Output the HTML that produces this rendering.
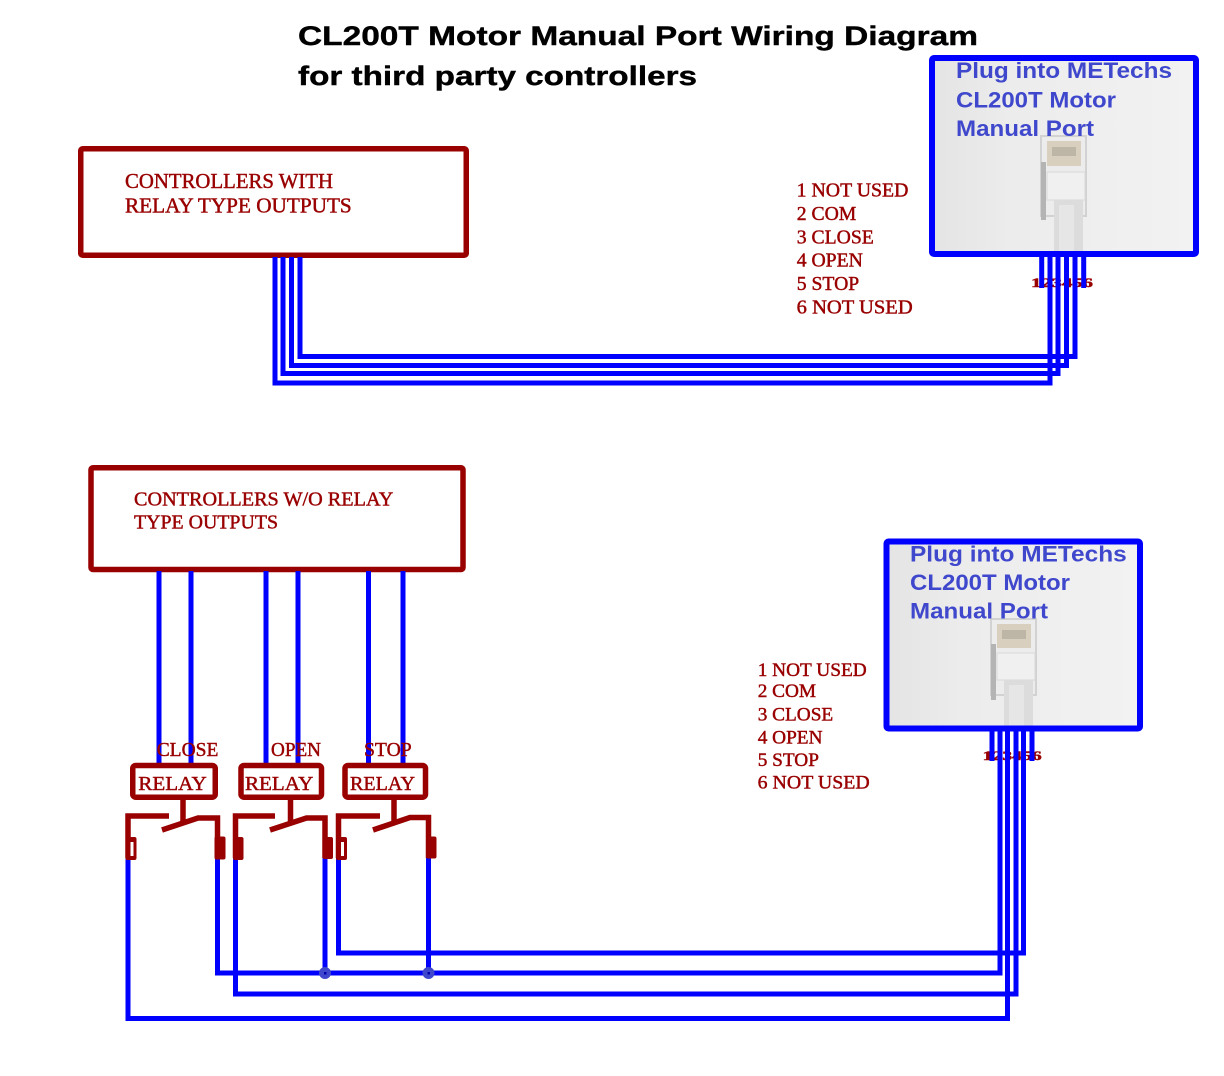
<!DOCTYPE html>
<html><head><meta charset="utf-8"><style>
html,body{margin:0;padding:0;background:#fff;}
svg{display:block;}
.ser{font-family:"Liberation Serif",serif;fill:#990000;stroke:#990000;stroke-width:0.45;}
.plug{font-family:"Liberation Sans",sans-serif;font-weight:bold;fill:#3f48cc;font-size:22px;}
.ttl{font-family:"Liberation Sans",sans-serif;font-weight:bold;fill:#000;font-size:27px;stroke:#000;stroke-width:0.4;}
</style></head><body>
<svg width="1224" height="1076" viewBox="0 0 1224 1076" xmlns="http://www.w3.org/2000/svg">
<defs>
<linearGradient id="bg" x1="0" y1="0" x2="1" y2="0">
<stop offset="0" stop-color="#e4e4e4"/><stop offset="0.3" stop-color="#ececec"/><stop offset="1" stop-color="#f2f2f2"/>
</linearGradient>
</defs>
<rect width="1224" height="1076" fill="#fff"/>

<!-- Title -->
<text class="ttl" x="298" y="45" textLength="680" lengthAdjust="spacingAndGlyphs">CL200T Motor Manual Port Wiring  Diagram</text>
<text class="ttl" x="298" y="85" textLength="399" lengthAdjust="spacingAndGlyphs">for third party controllers</text>

<!-- Top plug box -->
<rect x="932" y="58" width="264" height="196" fill="url(#bg)"/>
<g>
<rect x="1041" y="136" width="45" height="80" fill="#ececec" stroke="#d2d2d2" stroke-width="2"/>
<rect x="1047" y="141" width="34" height="25" fill="#d8cfbf"/>
<rect x="1052" y="147" width="24" height="9" fill="#bdb5a6"/>
<rect x="1041" y="162" width="5" height="58" fill="#b4b4b4"/>
<rect x="1047" y="172" width="38" height="28" fill="#f0f0f0" stroke="#d8d8d8" stroke-width="1"/>
<rect x="1054" y="200" width="29" height="54" fill="#dcdcdc"/>
<rect x="1059" y="205" width="15" height="49" fill="#e6e6e6"/>
</g>
<text class="plug" x="956" y="78" textLength="216" lengthAdjust="spacingAndGlyphs">Plug into METechs</text>
<text class="plug" x="956" y="107.3" textLength="160" lengthAdjust="spacingAndGlyphs">CL200T Motor</text>
<text class="plug" x="956" y="136" textLength="138" lengthAdjust="spacingAndGlyphs">Manual Port</text>
<rect x="932" y="58" width="264" height="196" fill="none" stroke="#0000ff" stroke-width="6" rx="2"/>

<!-- Bottom plug box -->
<rect x="886.5" y="541.5" width="253.5" height="187" fill="url(#bg)"/>
<g>
<rect x="991" y="619" width="45" height="76" fill="#ececec" stroke="#d2d2d2" stroke-width="2"/>
<rect x="997" y="624" width="34" height="24" fill="#d8cfbf"/>
<rect x="1002" y="630" width="24" height="9" fill="#bdb5a6"/>
<rect x="991" y="644" width="5" height="56" fill="#b4b4b4"/>
<rect x="997" y="653" width="38" height="27" fill="#f0f0f0" stroke="#d8d8d8" stroke-width="1"/>
<rect x="1004" y="680" width="29" height="48" fill="#dcdcdc"/>
<rect x="1009" y="685" width="15" height="43" fill="#e6e6e6"/>
</g>
<text class="plug" x="910" y="561.7" textLength="216.7" lengthAdjust="spacingAndGlyphs">Plug into METechs</text>
<text class="plug" x="910" y="590" textLength="160" lengthAdjust="spacingAndGlyphs">CL200T Motor</text>
<text class="plug" x="910" y="618.3" textLength="138" lengthAdjust="spacingAndGlyphs">Manual Port</text>
<rect x="886.5" y="541.5" width="253.5" height="187" fill="none" stroke="#0000ff" stroke-width="6" rx="2"/>

<!-- Controller boxes -->
<rect x="80.75" y="148.75" width="385.5" height="106.5" fill="none" stroke="#990000" stroke-width="5.5" rx="2"/>
<text class="ser" x="125" y="188" font-size="20.8" textLength="208" lengthAdjust="spacingAndGlyphs">CONTROLLERS WITH</text>
<text class="ser" x="125" y="212.3" font-size="20.8" textLength="226.7" lengthAdjust="spacingAndGlyphs">RELAY TYPE OUTPUTS</text>

<rect x="91" y="467.75" width="372" height="101.8" fill="none" stroke="#990000" stroke-width="5.5" rx="2"/>
<text class="ser" x="134" y="505.7" font-size="20" textLength="259.3" lengthAdjust="spacingAndGlyphs">CONTROLLERS W/O RELAY</text>
<text class="ser" x="134" y="528.3" font-size="20" textLength="144" lengthAdjust="spacingAndGlyphs">TYPE OUTPUTS</text>

<!-- Pinout labels -->
<g class="ser" font-size="19.7">
<text x="796.7" y="196.7" textLength="111.7" lengthAdjust="spacingAndGlyphs">1 NOT USED</text>
<text x="796.7" y="220">2 COM</text>
<text x="796.7" y="243.3">3 CLOSE</text>
<text x="796.7" y="266.7">4 OPEN</text>
<text x="796.7" y="290">5 STOP</text>
<text x="796.7" y="313.3" textLength="116" lengthAdjust="spacingAndGlyphs">6 NOT USED</text>
</g>
<g class="ser" font-size="19.3">
<text x="757.7" y="676" textLength="109" lengthAdjust="spacingAndGlyphs">1 NOT USED</text>
<text x="757.7" y="697">2 COM</text>
<text x="757.7" y="720.5">3 CLOSE</text>
<text x="757.7" y="743.3">4 OPEN</text>
<text x="757.7" y="766">5 STOP</text>
<text x="757.7" y="788.3" textLength="112" lengthAdjust="spacingAndGlyphs">6 NOT USED</text>
</g>

<!-- pin numbers -->
<text class="ser" x="1031" y="287" font-size="13" font-weight="bold" textLength="62" lengthAdjust="spacingAndGlyphs">123456</text>
<text class="ser" x="982.7" y="760" font-size="13" font-weight="bold" textLength="59" lengthAdjust="spacingAndGlyphs">123456</text>

<!-- Top wires -->
<g fill="none" stroke="#0000ff" stroke-width="5" stroke-linejoin="miter">
<path d="M275 257 V383 H1050 V256"/>
<path d="M283 257 V373.5 H1058 V256"/>
<path d="M291.5 257 V365.5 H1066.5 V256"/>
<path d="M300 257 V356.5 H1075 V256"/>
<path d="M1041.7 256 V288"/>
<path d="M1083.7 256 V288"/>
</g>

<!-- Controller 2 to relays -->
<g fill="none" stroke="#0000ff" stroke-width="5">
<path d="M159 571 V765"/>
<path d="M191 571 V765"/>
<path d="M266 571 V765"/>
<path d="M298 571 V765"/>
<path d="M368.5 571 V765"/>
<path d="M403 571 V765"/>
</g>

<!-- Bottom wires -->
<g fill="none" stroke="#0000ff" stroke-width="5" stroke-linejoin="miter">
<path d="M992 731 V761"/>
<path d="M1032 731 V761"/>
<path d="M1000 731 V973 H217.5 V856"/>
<path d="M1007.5 731 V1018.5 H128 V856"/>
<path d="M1016 731 V994 H235.5 V856"/>
<path d="M1023.5 731 V953 H338.5 V856"/>
<path d="M325 856 V973"/>
<path d="M428.5 856 V973"/>
</g>
<g>
<circle cx="325" cy="973" r="6" fill="#3f48cc"/>
<rect x="324" y="972" width="2.5" height="2.5" fill="#0000aa"/>
<circle cx="428.5" cy="973" r="6" fill="#3f48cc"/>
<rect x="427.5" y="972" width="2.5" height="2.5" fill="#0000aa"/>
</g>

<!-- Relay labels -->
<g class="ser" font-size="20">
<text x="156.7" y="756" textLength="61.7" lengthAdjust="spacingAndGlyphs">CLOSE</text>
<text x="271" y="756" textLength="50" lengthAdjust="spacingAndGlyphs">OPEN</text>
<text x="364" y="756" textLength="47.7" lengthAdjust="spacingAndGlyphs">STOP</text>
</g>

<!-- Relays -->
<g fill="none" stroke="#990000" stroke-width="5.5" stroke-linejoin="miter">
<rect x="132.75" y="765.5" width="82.5" height="31.7" rx="3"/>
<rect x="241" y="765.5" width="80.5" height="31.7" rx="3"/>
<rect x="345" y="765.5" width="80.5" height="31.7" rx="3"/>
<path d="M183 798 V822"/>
<path d="M128 858 V816 H169"/>
<path d="M162 830 L198 818 H217.5 V858"/>
<path d="M290.5 798 V822"/>
<path d="M235.5 858 V816 H275"/>
<path d="M270 830 L306.5 818 H325 V858"/>
<path d="M394 798 V822"/>
<path d="M338.5 858 V816 H380"/>
<path d="M373 830 L410 817.5 H428.5 V858"/>
</g>
<g fill="#990000">
<rect x="125.5" y="837" width="11" height="23" rx="2"/>
<rect x="130.5" y="842" width="3" height="14" fill="#fff"/>
<rect x="214.5" y="836.5" width="11" height="23" rx="2"/>
<rect x="233" y="837" width="10.5" height="23" rx="2"/>
<rect x="322.5" y="837" width="10.5" height="22" rx="2"/>
<rect x="336" y="837" width="11" height="23" rx="2"/>
<rect x="341" y="842" width="3" height="14" fill="#fff"/>
<rect x="426" y="836.5" width="10.5" height="22" rx="2"/>
</g>
<g class="ser" font-size="20.4">
<text x="138.3" y="790" textLength="68.4" lengthAdjust="spacingAndGlyphs">RELAY</text>
<text x="245" y="790" textLength="68.3" lengthAdjust="spacingAndGlyphs">RELAY</text>
<text x="350" y="790" textLength="65" lengthAdjust="spacingAndGlyphs">RELAY</text>
</g>
</svg>
</body></html>
